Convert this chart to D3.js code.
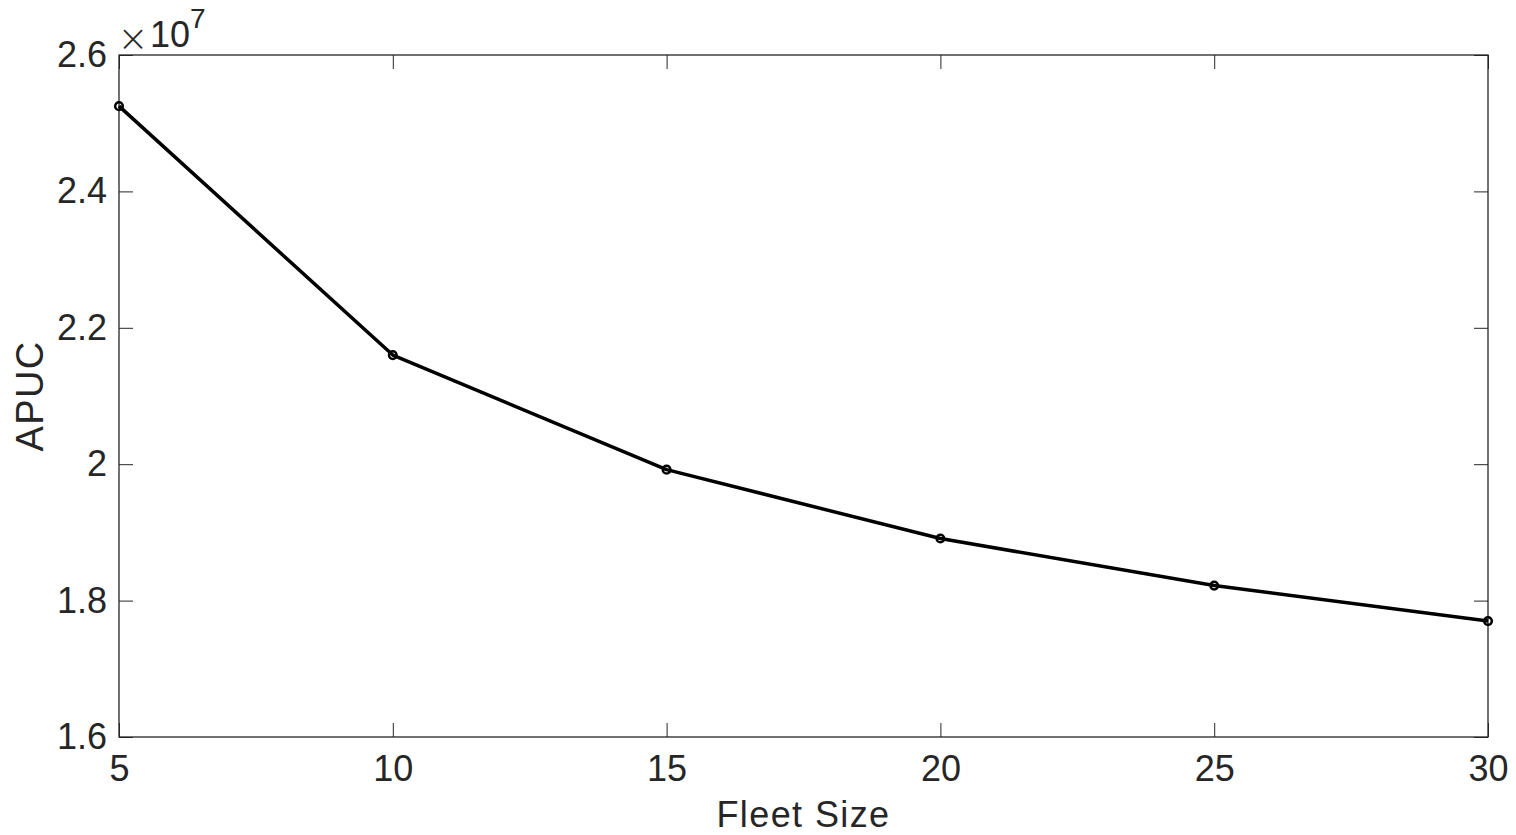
<!DOCTYPE html>
<html>
<head>
<meta charset="utf-8">
<script src="https://cdn.jsdelivr.net/npm/d3@7"></script>
<style>
  body { margin: 0; background: #fff; }
  svg text { font-family: "Liberation Sans", Arial, Helvetica, sans-serif; fill: #262626; }
</style>
</head>
<body>
<svg id="chart"></svg>
<script>
const width = 1516;
const height = 835;

// fleet sizes and APUC (in units of 1e7)
const fleetSizes = [5, 10, 15, 20, 25, 30];
const apuc = [2.525, 2.16, 1.992, 1.891, 1.822, 1.770];
const xTicks = [5, 10, 15, 20, 25, 30];
const yTicks = [1.6, 1.8, 2.0, 2.2, 2.4, 2.6];

const margin = { left: 119, right: 28, top: 55, bottom: 98 };

const svg = d3.select('#chart')
    .attr('width', width)
    .attr('height', height);

const x = d3.scaleLinear()
    .domain([5, 30])
    .range([margin.left, width - margin.right]);

const y = d3.scaleLinear()
    .domain([1.6, 2.6])
    .range([height - margin.bottom, margin.top]);

const tickLen = 14;

// bottom axis
svg.append("g")
    .attr("transform", "translate(0," + (height - margin.bottom) + ")")
    .call(d3.axisBottom(x).tickValues(xTicks).tickSize(-tickLen).tickPadding(18).tickFormat(d3.format("d")))
    .call(g => g.select(".domain").remove())
    .call(g => g.selectAll("line").attr("stroke", "#262626"))
    .call(g => g.selectAll("text").style("font-size", "36px").attr("fill", "#262626"));

// top axis ticks (no labels)
svg.append("g")
    .attr("transform", "translate(0," + margin.top + ")")
    .call(d3.axisTop(x).tickValues(xTicks).tickSize(-tickLen).tickFormat(""))
    .call(g => g.select(".domain").remove())
    .call(g => g.selectAll("line").attr("stroke", "#262626"));

// left axis
svg.append("g")
    .attr("transform", "translate(" + margin.left + ",0)")
    .call(d3.axisLeft(y).tickValues(yTicks).tickSize(-tickLen).tickPadding(12)
        .tickFormat(d => d === 2 ? "2" : d3.format(".1f")(d)))
    .call(g => g.select(".domain").remove())
    .call(g => g.selectAll("line").attr("stroke", "#262626"))
    .call(g => g.selectAll("text").style("font-size", "36px").attr("fill", "#262626"));

// right axis ticks
svg.append("g")
    .attr("transform", "translate(" + (width - margin.right) + ",0)")
    .call(d3.axisRight(y).tickValues(yTicks).tickSize(-tickLen).tickFormat(""))
    .call(g => g.select(".domain").remove())
    .call(g => g.selectAll("line").attr("stroke", "#262626"));

// box
svg.append("rect")
    .attr("x", margin.left)
    .attr("y", margin.top)
    .attr("width", width - margin.left - margin.right)
    .attr("height", height - margin.top - margin.bottom)
    .attr("fill", "none")
    .attr("stroke", "#262626")
    .attr("stroke-width", 1.3);

const data = fleetSizes.map((f, i) => ({ f: f, v: apuc[i] }));

const line = d3.line()
    .x(d => x(d.f))
    .y(d => y(d.v));

svg.append("path")
    .datum(data)
    .attr("d", line)
    .attr("fill", "none")
    .attr("stroke", "#000")
    .attr("stroke-width", 3.5)
    .attr("stroke-linejoin", "round");

svg.append("g")
    .selectAll("circle")
    .data(data)
    .enter()
    .append("circle")
    .attr("cx", d => x(d.f))
    .attr("cy", d => y(d.v))
    .attr("r", 3.8)
    .attr("fill", "none")
    .attr("stroke", "#000")
    .attr("stroke-width", 2.5);

// exponent label: thin times sign, then 10^7
svg.append("text")
    .attr("x", 133)
    .attr("y", 38)
    .attr("text-anchor", "middle")
    .attr("dominant-baseline", "central")
    .style("font-size", "37px")
    .style("font-family", "'DejaVu Sans', sans-serif")
    .style("font-weight", "200")
    .text("\u00d7");

const expo = svg.append("text")
    .attr("x", 150)
    .attr("y", 47)
    .style("font-size", "36px");
expo.append("tspan").text("10");
expo.append("tspan").attr("dy", -19).style("font-size", "28px").text("7");

// axis titles
svg.append("text")
    .attr("x", (margin.left + width - margin.right) / 2)
    .attr("y", 827)
    .attr("text-anchor", "middle")
    .style("font-size", "36px")
    .style("letter-spacing", "1.4px")
    .text("Fleet Size");

svg.append("text")
    .attr("transform", "translate(43," + ((margin.top + height - margin.bottom) / 2) + ") rotate(-90)")
    .attr("text-anchor", "middle")
    .style("font-size", "38px")
    .style("letter-spacing", "1.3px")
    .text("APUC");
</script>
</body>
</html>
